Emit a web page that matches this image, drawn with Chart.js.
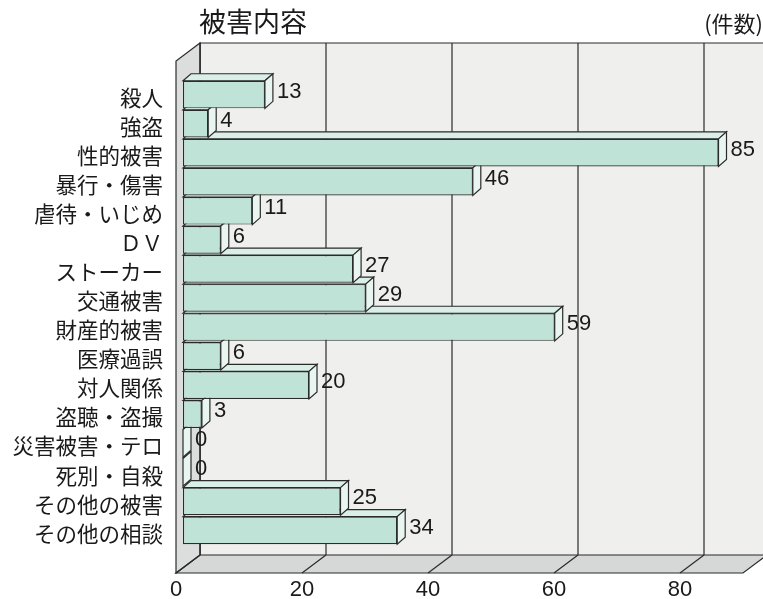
<!DOCTYPE html>
<html>
<head>
<meta charset="utf-8">
<script src="https://cdn.jsdelivr.net/npm/chart.js@4.4.1/dist/chart.umd.min.js"></script>
<style>
  html, body { margin: 0; padding: 0; background: #fff; }
  #wrap { width: 763px; height: 599px; position: relative; }
</style>
</head>
<body>
<div id="wrap"><canvas id="myChart"></canvas></div>
<script>
const categories = ['殺人', '強盗', '性的被害', '暴行・傷害', '虐待・いじめ', 'ＤＶ', 'ストーカー', '交通被害',
    '財産的被害', '医療過誤', '対人関係', '盗聴・盗撮', '災害被害・テロ', '死別・自殺', 'その他の被害', 'その他の相談'];
const counts = [13, 4, 85, 46, 11, 6, 27, 29, 59, 6, 20, 3, 0, 0, 25, 34];
const xTicks = [0, 20, 40, 60, 80];
const xMax = 90;

const titleText = '被害内容';
const unitText = '(件数)';

// 3D look: depth of the box and of the bars
const WALL_DX = 24, WALL_DY = -18;
const BAR_DX = 8, BAR_DY = -7;
const BAR_SHIFT_X = 7, BAR_SHIFT_Y = -3;
const FLOOR_Y = 573, WALL_TOP = 43;

const cjk = '"Noto Sans CJK JP", "Noto Sans", sans-serif';
const num = '"Liberation Sans Narrow", "Liberation Sans", Arial, sans-serif';

const box3d = {
    id: 'box3d',
    beforeDatasetsDraw(chart) {
        const ctx = chart.ctx;
        const xs = chart.scales.x;
        const x0 = xs.getPixelForValue(0);
        const x1 = xs.getPixelForValue(xMax);
        const backBottom = FLOOR_Y + WALL_DY;

        ctx.save();
        ctx.lineWidth = 1.2;
        ctx.strokeStyle = '#2b2b2b';

        // back wall
        ctx.fillStyle = '#efefed';
        ctx.fillRect(x0 + WALL_DX, WALL_TOP, x1 - x0, backBottom - WALL_TOP);
        ctx.beginPath();
        ctx.moveTo(x0 + WALL_DX, backBottom);
        ctx.lineTo(x0 + WALL_DX, WALL_TOP);
        ctx.lineTo(x1 + WALL_DX, WALL_TOP);
        ctx.stroke();

        // floor
        ctx.fillStyle = '#d5d8d7';
        ctx.beginPath();
        ctx.moveTo(x0, FLOOR_Y);
        ctx.lineTo(x1, FLOOR_Y);
        ctx.lineTo(x1 + WALL_DX, backBottom);
        ctx.lineTo(x0 + WALL_DX, backBottom);
        ctx.closePath();
        ctx.fill();
        ctx.stroke();

        // left wall
        ctx.fillStyle = '#dcdedd';
        ctx.beginPath();
        ctx.moveTo(x0, FLOOR_Y);
        ctx.lineTo(x0, WALL_TOP - WALL_DY);
        ctx.lineTo(x0 + WALL_DX, WALL_TOP);
        ctx.lineTo(x0 + WALL_DX, backBottom);
        ctx.closePath();
        ctx.fill();
        ctx.stroke();

        // grid lines on back wall and floor
        xTicks.forEach(v => {
            const px = xs.getPixelForValue(v);
            ctx.beginPath();
            ctx.moveTo(px + WALL_DX, WALL_TOP);
            ctx.lineTo(px + WALL_DX, backBottom);
            ctx.moveTo(px + WALL_DX, backBottom);
            ctx.lineTo(px, FLOOR_Y);
            ctx.stroke();
        });

        // top and side faces of the bars, bottom bar first
        ctx.translate(BAR_SHIFT_X, BAR_SHIFT_Y);
        const meta = chart.getDatasetMeta(0);
        for (let i = meta.data.length - 1; i >= 0; i--) {
            const p = meta.data[i].getProps(['x', 'y', 'base', 'height'], true);
            const top = p.y - p.height / 2, bottom = p.y + p.height / 2;
            const left = p.base, right = p.x;
            ctx.fillStyle = '#d9efe8';
            ctx.beginPath();
            ctx.moveTo(left, top);
            ctx.lineTo(left + BAR_DX, top + BAR_DY);
            ctx.lineTo(right + BAR_DX, top + BAR_DY);
            ctx.lineTo(right, top);
            ctx.closePath();
            ctx.fill();
            ctx.stroke();
            ctx.fillStyle = '#e9f5f0';
            ctx.beginPath();
            ctx.moveTo(right, top);
            ctx.lineTo(right + BAR_DX, top + BAR_DY);
            ctx.lineTo(right + BAR_DX, bottom + BAR_DY);
            ctx.lineTo(right, bottom);
            ctx.closePath();
            ctx.fill();
            ctx.stroke();
        }
        // keep the shift for the bar fronts; restored after datasets
    },
    afterDatasetsDraw(chart) {
        const ctx = chart.ctx;
        ctx.restore();

        // value labels
        const meta = chart.getDatasetMeta(0);
        ctx.save();
        ctx.fillStyle = '#1a1a1a';
        ctx.font = '22px ' + num;
        ctx.textAlign = 'left';
        ctx.textBaseline = 'middle';
        meta.data.forEach((el, i) => {
            const p = el.getProps(['x', 'y'], true);
            ctx.fillText(String(counts[i]), p.x + BAR_SHIFT_X + BAR_DX + 4, p.y + BAR_SHIFT_Y - 3);
        });

        // titles
        ctx.font = '27px ' + cjk;
        ctx.fillText(titleText, 199, 22);
        ctx.font = '22px ' + cjk;
        ctx.textAlign = 'right';
        ctx.fillText(unitText, 763, 24);
        ctx.restore();
    }
};

const ctx = document.getElementById('myChart').getContext('2d');
new Chart(ctx, {
    type: 'bar',
    data: {
        labels: categories,
        datasets: [{
            data: counts,
            backgroundColor: '#c0e3d7',
            borderColor: '#2b2b2b',
            borderWidth: 1.2,
            borderSkipped: false,
            barPercentage: 0.95,
            categoryPercentage: 1,
            clip: false
        }]
    },
    options: {
        indexAxis: 'y',
        responsive: true,
        maintainAspectRatio: false,
        animation: false,
        devicePixelRatio: 1,
        layout: { padding: { top: 83, right: 20, left: 0, bottom: 0 } },
        plugins: {
            legend: { display: false },
            tooltip: { enabled: false }
        },
        scales: {
            x: {
                type: 'linear',
                min: 0,
                max: xMax,
                grid: { display: false },
                border: { display: false },
                afterBuildTicks: scale => { scale.ticks = xTicks.map(v => ({ value: v })); },
                afterFit: scale => { scale.height = 51; },
                ticks: {
                    color: '#1a1a1a',
                    padding: 21,
                    font: { family: num, size: 22 }
                }
            },
            y: {
                type: 'category',
                grid: { display: false },
                border: { display: false },
                afterFit: scale => { scale.width = 176; },
                ticks: {
                    autoSkip: false,
                    color: '#1a1a1a',
                    padding: 5,
                    font: { family: cjk, size: 21.5 }
                }
            }
        }
    },
    plugins: [box3d]
});
</script>
</body>
</html>
